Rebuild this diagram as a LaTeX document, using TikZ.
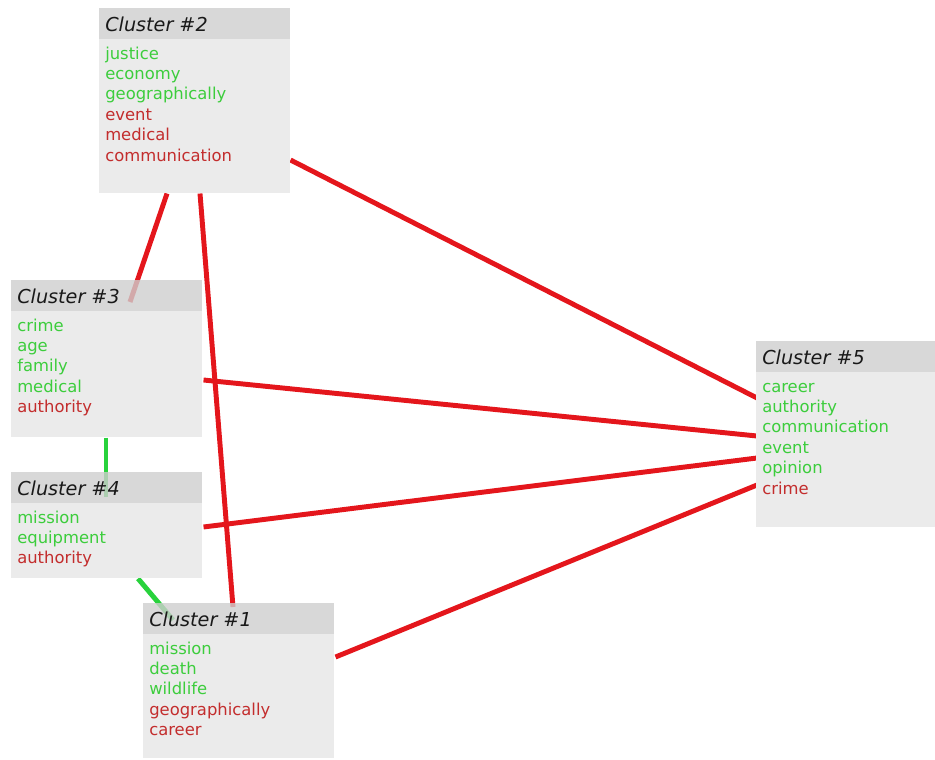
\documentclass[tikz,border=0pt]{standalone}
\usepackage{fontspec}
\setmainfont{DejaVu Sans}
\usetikzlibrary{calc}
\pgfdeclarelayer{bg}
\pgfsetlayers{bg,main}
\definecolor{gw}{RGB}{60,205,60}
\definecolor{rw}{RGB}{195,45,45}
\definecolor{redline}{RGB}{228,22,28}
\definecolor{greenline}{RGB}{40,210,60}
\definecolor{bodyfill}{RGB}{235,235,235}
\definecolor{hdrfill}{RGB}{206,206,206}
\definecolor{titletext}{RGB}{25,25,25}
\tikzset{
  hdr/.style={fill=hdrfill, fill opacity=0.8, draw=none, minimum height=31*0.75pt, inner sep=0pt, anchor=north west},
  bodybox/.style={fill=bodyfill, draw=none, inner sep=0pt, anchor=north west},
  titletxt/.style={font=\fontsize{14.4pt}{17pt}\selectfont\itshape, text=titletext, inner sep=0pt, anchor=west},
  word/.style={font=\fontsize{12.3pt}{15pt}\selectfont, inner sep=0pt, anchor=base west},
  rlink/.style={draw=redline, line width=3.7pt},
  glink/.style={draw=greenline, line width=3.7pt},
}
\newcommand\clusterbox[6]{%
  \node[hdr, minimum width=#4*0.75pt] (h#1) at (#2,#3) {};
  \node[bodybox, minimum width=#4*0.75pt, minimum height=(#5-31)*0.75pt] (b#1) at (#2,#3+31) {};
  \node[titletxt] (t#1) at (#2+6,#3+16) {Cluster \##1};
  \foreach \w/\c [count=\i] in {#6}
    \node[word, text=\c] (w#1-\i) at (#2+6,#3+51+20.4*\i-20.4) {\w};
}
\begin{document}
\begin{tikzpicture}[x=0.75pt,y=-0.75pt]
\useasboundingbox (0,0) rectangle (935,760);
\clusterbox{2}{99}{8}{191}{185}{justice/gw,economy/gw,geographically/gw,event/rw,medical/rw,communication/rw}
\clusterbox{3}{11}{280}{191}{157}{crime/gw,age/gw,family/gw,medical/gw,authority/rw}
\clusterbox{4}{11}{472}{191}{106}{mission/gw,equipment/gw,authority/rw}
\clusterbox{1}{143}{603}{191}{155}{mission/gw,death/gw,wildlife/gw,geographically/rw,career/rw}
\clusterbox{5}{756}{341}{179}{186}{career/gw,authority/gw,communication/gw,event/gw,opinion/gw,crime/rw}
\begin{pgfonlayer}{bg}
\draw[rlink] ($(b2.south west)+(68,0)$) -- ($(h3.north west)+(119,22)$);
\draw[rlink] ($(b2.south west)+(101,0)$) -- ($(h1.north west)+(90,4)$);
\draw[rlink] ($(b2.north east)+(0,121)$) -- ($(b5.north west)+(1,26)$);
\draw[rlink] ($(b3.north east)+(1,69)$) -- ($(b5.north west)+(1,64)$);
\draw[rlink] ($(b4.north east)+(1,24)$) -- ($(b5.north west)+(1,86)$);
\draw[rlink] ($(b1.north east)+(1,23)$) -- ($(b5.north west)+(1,113)$);
\draw[glink] ($(b3.south west)+(95,0)$) -- ($(h4.north west)+(95,25)$);
\draw[glink] ($(b4.south west)+(127,0)$) -- ($(h1.north west)+(30,17)$);
\end{pgfonlayer}
\end{tikzpicture}
\end{document}
